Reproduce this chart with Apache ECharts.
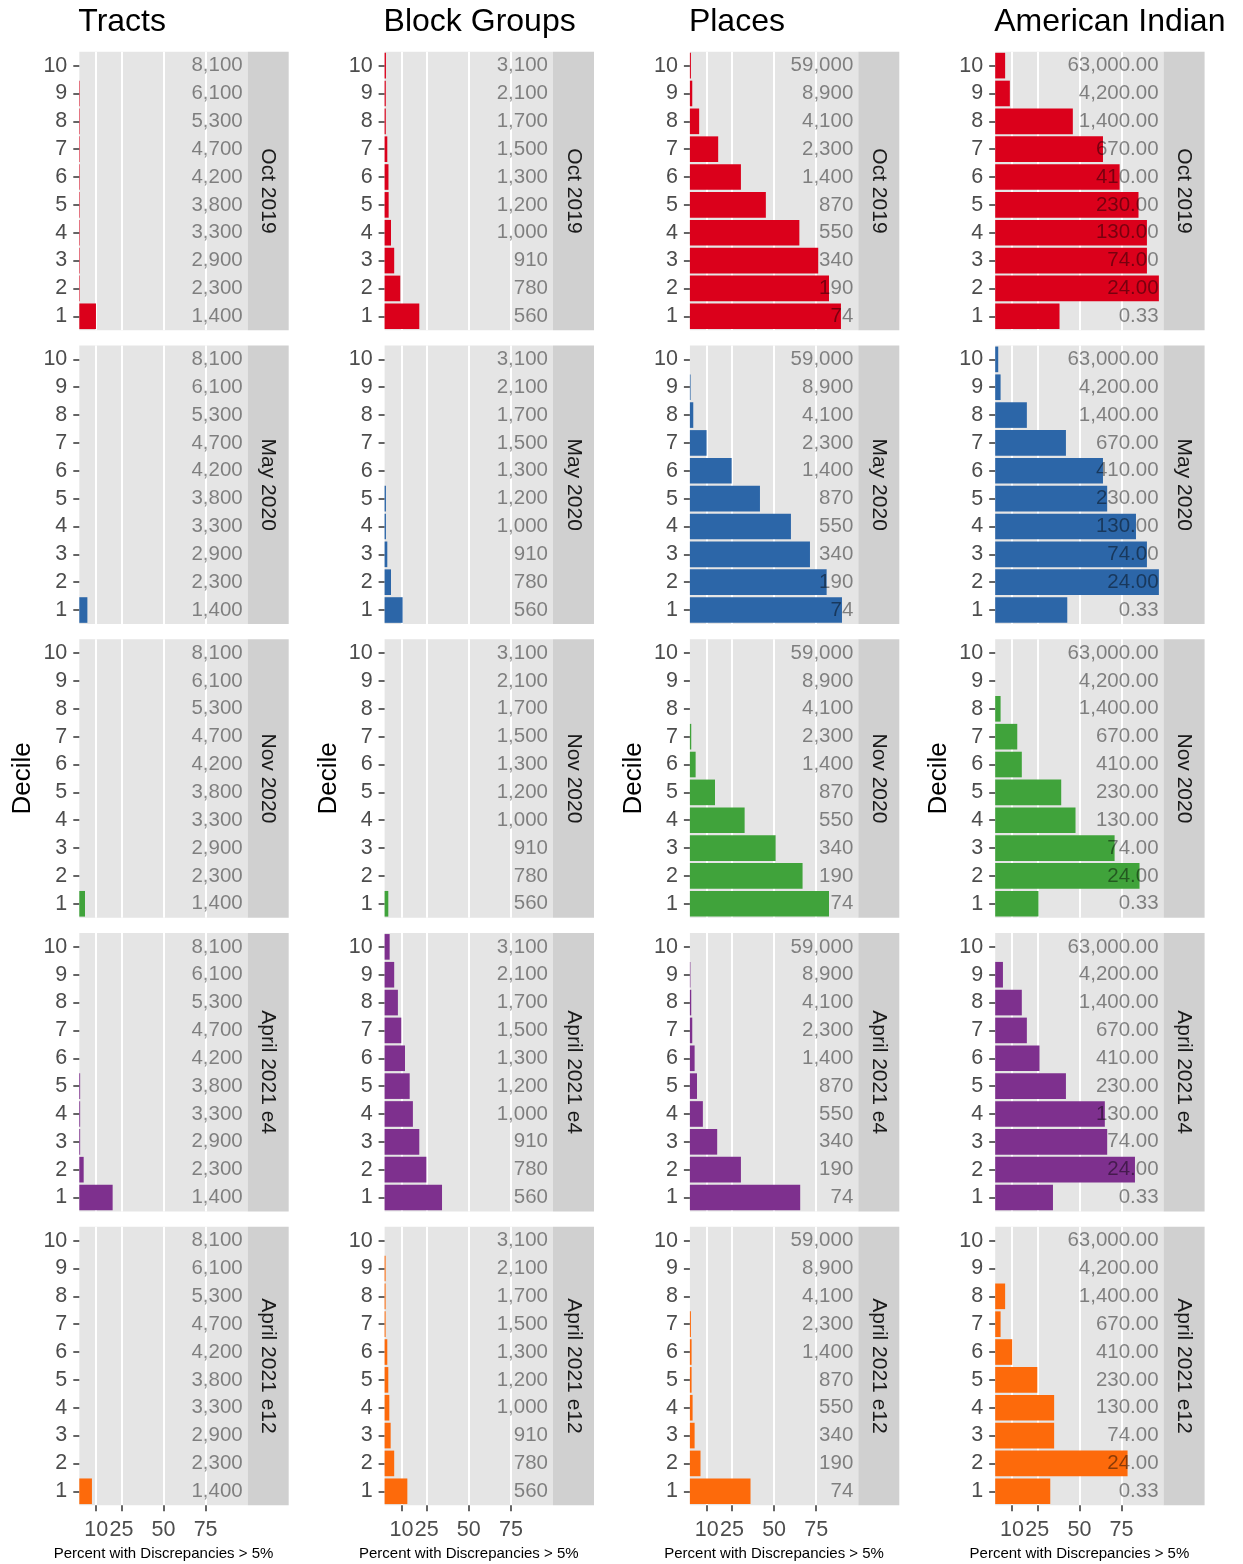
<!DOCTYPE html>
<html>
<head>
<meta charset="utf-8">
<script src="https://cdn.jsdelivr.net/npm/echarts@6/dist/echarts.min.js"></script>
<style>
  html, body { margin: 0; padding: 0; background: #ffffff; }
  #chart { width: 1243px; height: 1564px; }
</style>
</head>
<body>
<div id="chart"></div>
<script>
// ---- data -------------------------------------------------------------
const deciles = ['1', '2', '3', '4', '5', '6', '7', '8', '9', '10'];
const periods = ['Oct 2019', 'May 2020', 'Nov 2020', 'April 2021 e4', 'April 2021 e12'];
const geographies = ['Tracts', 'Block Groups', 'Places', 'American Indian'];
const xTicks = [10, 25, 50, 75];

// population of each decile (printed at the right of every panel)
const tractsPop = ['1,400', '2,300', '2,900', '3,300', '3,800', '4,200', '4,700', '5,300', '6,100', '8,100'];
const blockGroupsPop = ['560', '780', '910', '1,000', '1,200', '1,300', '1,500', '1,700', '2,100', '3,100'];
const placesPop = ['74', '190', '340', '550', '870', '1,400', '2,300', '4,100', '8,900', '59,000'];
const aianPop = ['0.33', '24.00', '74.00', '130.00', '230.00', '410.00', '670.00', '1,400.00', '4,200.00', '63,000.00'];

// percent with discrepancies > 5%, deciles 1..10; one row per period
const tractsPct = [
  [9.9, 0.3, 0.3, 0.3, 0.3, 0.3, 0.3, 0.3, 0.3, 0],
  [4.8, 0, 0, 0, 0, 0, 0, 0, 0, 0],
  [3.4, 0, 0, 0, 0, 0, 0, 0, 0, 0],
  [19.8, 2.6, 0.5, 0.5, 0.5, 0, 0, 0, 0, 0],
  [7.5, 0, 0, 0, 0, 0, 0, 0, 0, 0]
];
const blockGroupsPct = [
  [20.6, 9.3, 5.7, 3.8, 2.4, 2.3, 1.6, 0.7, 0.7, 0.8],
  [10.7, 3.8, 1.6, 0.8, 0.8, 0, 0, 0, 0, 0],
  [2.2, 0, 0, 0, 0, 0, 0, 0, 0, 0],
  [34.1, 24.8, 20.6, 16.8, 14.9, 12.1, 9.9, 7.9, 5.7, 3.0],
  [13.5, 5.7, 3.6, 2.8, 2.2, 1.6, 0.6, 0.6, 0.6, 0]
];
const placesPct = [
  [89.7, 82.6, 76.2, 65.0, 45.1, 30.3, 16.8, 5.5, 1.4, 0.6],
  [90.3, 81.2, 71.3, 60.0, 41.6, 24.8, 9.9, 2.0, 0.4, 0],
  [82.6, 66.9, 50.9, 32.5, 14.9, 3.4, 0.8, 0, 0, 0],
  [65.5, 30.3, 16.2, 7.7, 4.2, 2.8, 1.4, 0.8, 0.3, 0],
  [36.0, 6.3, 2.8, 1.6, 1.0, 1.0, 0.6, 0, 0, 0]
];
const aianPct = [
  [38.2, 97.2, 90.1, 90.1, 85.1, 73.9, 64.0, 46.1, 8.7, 5.9],
  [42.8, 97.2, 90.1, 83.6, 66.5, 64.0, 42.0, 18.8, 3.2, 1.8],
  [25.7, 85.7, 70.9, 47.7, 39.2, 15.8, 13.1, 3.2, 0, 0],
  [34.3, 83.0, 66.5, 65.1, 42.0, 26.3, 18.8, 15.8, 4.6, 0],
  [32.7, 78.6, 35.0, 35.0, 25.0, 10.1, 3.2, 5.9, 0, 0]
];

const popByGeo = [tractsPop, blockGroupsPop, placesPop, aianPop];
const pctByGeo = [tractsPct, blockGroupsPct, placesPct, aianPct];

// ---- styling & layout ---------------------------------------------------
const periodColors = ['#DB001B', '#2C66A8', '#40A33B', '#7E308E', '#FD6A0B'];
const FONT = 'Liberation Sans, Arial, Helvetica, sans-serif';
const PANEL_W = 168.4, STRIP_W = 41, PANEL_H = 278.5;
const COL_X0 = 79.3, COL_STEP = 305.3;
const ROW_Y0 = 51.7, ROW_STEP = 293.75;

const grids = [], xAxes = [], yAxes = [], series = [], graphics = [], titles = [];

geographies.forEach((geo, c) => {
  const left = COL_X0 + c * COL_STEP;
  titles.push({
    text: geo, left: left - 1, top: 6, padding: 0,
    textStyle: { fontSize: 32, fontWeight: 'normal', color: '#000', fontFamily: FONT }
  });
  periods.forEach((period, r) => {
    const top = ROW_Y0 + r * ROW_STEP;
    const g = grids.length;
    const isBottom = r === periods.length - 1;
    grids.push({
      left: left, top: top, width: PANEL_W, height: PANEL_H,
      show: true, backgroundColor: '#E5E5E5', borderWidth: 0,
      containLabel: false, outerBoundsMode: 'none'
    });
    xAxes.push({
      type: 'value', gridIndex: g, min: 0, max: 100,
      axisLine: { show: false },
      axisTick: {
        show: isBottom, customValues: xTicks, length: 6,
        lineStyle: { color: '#333333', width: 1.5 }
      },
      axisLabel: {
        show: isBottom, customValues: xTicks, margin: 14, hideOverlap: false,
        color: '#4D4D4D', fontSize: 21.5, fontFamily: FONT
      },
      splitLine: { show: true, lineStyle: { color: '#FFFFFF', width: 2 } },
      name: isBottom ? 'Percent with Discrepancies > 5%' : '',
      nameLocation: 'middle', nameGap: 41,
      nameTextStyle: { fontSize: 15, color: '#000', fontFamily: FONT }
    });
    // decile axis on the left
    const yLeft = yAxes.length;
    yAxes.push({
      type: 'category', gridIndex: g, data: deciles,
      axisLine: { show: false },
      axisTick: { show: true, alignWithLabel: true, interval: 0, length: 6, lineStyle: { color: '#333333', width: 1.5 } },
      axisLabel: { interval: 0, color: '#4D4D4D', fontSize: 21.5, margin: 12, fontFamily: FONT },
      splitLine: { show: false },
      name: r === 2 ? 'Decile' : '',
      nameLocation: 'middle', nameRotate: 90, nameGap: 43,
      nameTextStyle: { fontSize: 26, color: '#000', fontFamily: FONT }
    });
    // population labels printed inside the panel, right aligned
    yAxes.push({
      type: 'category', gridIndex: g, data: popByGeo[c], position: 'right', z: 5,
      axisLine: { show: false },
      axisTick: { show: false },
      axisLabel: { interval: 0, inside: true, margin: 5, color: 'rgba(0,0,0,0.45)', fontSize: 20.5, fontFamily: FONT },
      splitLine: { show: false }
    });
    series.push({
      type: 'bar', name: geo + ' ' + period,
      xAxisIndex: g, yAxisIndex: yLeft,
      data: pctByGeo[c][r],
      barCategoryGap: '8%',
      itemStyle: { color: periodColors[r] },
      silent: true, animation: false
    });
    // facet strip
    graphics.push({
      type: 'group', silent: true,
      children: [
        { type: 'rect', shape: { x: left + PANEL_W, y: top, width: STRIP_W, height: PANEL_H },
          style: { fill: '#D0D0D0' } },
        { type: 'text', x: left + PANEL_W + STRIP_W / 2, y: top + PANEL_H / 2, rotation: -Math.PI / 2,
          style: { text: period, fontSize: 21, fill: '#1A1A1A', fontFamily: FONT, align: 'center', verticalAlign: 'middle' } }
      ]
    });
  });
});

const chart = echarts.init(document.getElementById('chart'), null, { renderer: 'canvas' });
chart.setOption({
  animation: false,
  backgroundColor: '#ffffff',
  textStyle: { fontFamily: FONT },
  title: titles,
  grid: grids,
  xAxis: xAxes,
  yAxis: yAxes,
  series: series,
  graphic: graphics
});
</script>
</body>
</html>
